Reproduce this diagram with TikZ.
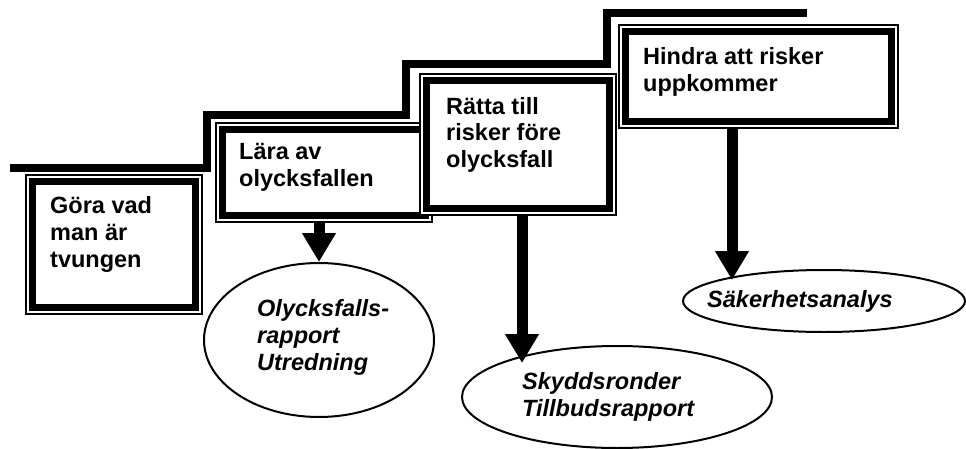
\documentclass[tikz,border=0pt]{standalone}
\usepackage{fontspec}
\setmainfont{Liberation Sans}
\usetikzlibrary{arrows.meta,shapes.geometric,calc}
\begin{document}
\begin{tikzpicture}[x=1pt,y=-1pt,
  outerbox/.style={draw,line width=1.3pt,fill=white,inner sep=0pt,rectangle},
  innerbox/.style={draw,line width=7pt,inner sep=0pt,rectangle},
  stair/.style={line width=8pt},
  boxtext/.style={font=\fontsize{23.5}{27}\selectfont\bfseries,align=left,inner sep=0pt,anchor=base west},
  elltext/.style={font=\fontsize{23.5}{27}\selectfont\bfseries\itshape,align=left,inner sep=0pt,anchor=base west},
  oval/.style={draw,ellipse,line width=2pt,inner sep=0pt,fill=white},
  arr/.style={line width=11pt,-{Triangle[width=32pt,length=29pt]}}
]
\useasboundingbox[fill=white] (0,0) rectangle (966,449);
% staircase
\coordinate (s0) at (10,168);
\coordinate (s1) at (207,168);
\coordinate (s2) at (207,115);
\coordinate (s3) at (406,115);
\coordinate (s4) at (406,64);
\coordinate (s5) at (607,64);
\coordinate (s6) at (607,13);
\coordinate (s7) at (807,13);
\draw[stair] (s0) -- (s1) -- (s2) -- (s3) -- (s4) -- (s5) -- (s6) -- (s7);
% boxes
\node[outerbox,minimum width=176pt,minimum height=139pt] (b1) at (114,244.5) {};
\node[innerbox,minimum width=163pt,minimum height=126pt] (b1i) at (b1) {};
\node[outerbox,minimum width=216pt,minimum height=99pt] (b2) at (324,172.5) {};
\node[innerbox,minimum width=203pt,minimum height=86pt] (b2i) at (b2) {};
\node[outerbox,minimum width=196pt,minimum height=141pt] (b3) at (518,144.5) {};
\node[innerbox,minimum width=183pt,minimum height=128pt] (b3i) at (b3) {};
\node[outerbox,minimum width=279pt,minimum height=103pt] (b4) at (758.5,76.5) {};
\node[innerbox,minimum width=266pt,minimum height=90pt] (b4i) at (b4) {};
\node[boxtext] (t1) at (50,267) {Göra vad\\man är\\tvungen};
\node[boxtext] (t2) at (239,187) {Lära av\\olycksfallen};
\node[boxtext] (t3) at (446,168) {Rätta till\\risker före\\olycksfall};
\node[boxtext] (t4) at (643,92) {Hindra att risker\\uppkommer};
% ellipses
\node[oval,minimum width=230pt,minimum height=154pt] (e1) at (319,340) {};
\node[oval,minimum width=310pt,minimum height=102pt] (e2) at (617,397) {};
\node[oval,minimum width=282pt,minimum height=62pt] (e3) at (824,301) {};
\node[elltext] (u1) at (257,370) {Olycksfalls-\\rapport\\Utredning};
\node[elltext] (u2) at (522,416) {Skyddsronder\\Tillbudsrapport};
\node[elltext] (u3) at (707,307) {Säkerhetsanalys};
% arrows
\coordinate (p2) at (522,363);
\coordinate (p3) at (732,280);
\draw[arr] (b2.south -| e1.north) -- (e1.north);
\draw[arr] (b3.south -| p2) -- (p2);
\draw[arr] (b4.south -| p3) -- (p3);
\end{tikzpicture}
\end{document}
